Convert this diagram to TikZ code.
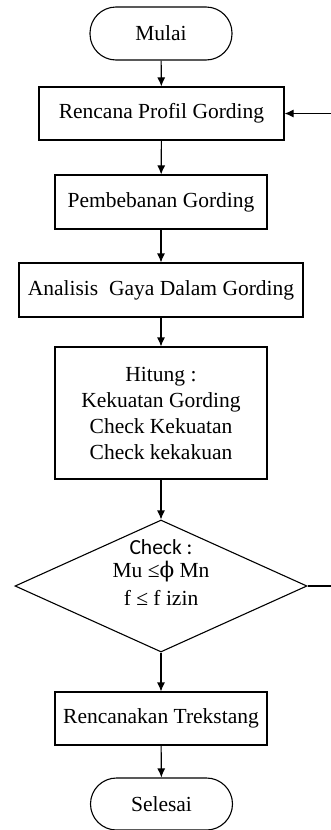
\documentclass[tikz,border=0pt]{standalone}
\usepackage{fontspec}
\setmainfont{Liberation Serif}
\newfontfamily\carlito{Carlito}
\newfontfamily\dejaserif{DejaVu Serif}
\usetikzlibrary{shapes.geometric,arrows.meta}
\begin{document}
\begin{tikzpicture}[x=1pt,y=-1pt,
  font=\fontsize{21.5}{26}\selectfont,
  line width=1.1pt,
  procbox/.style={draw,rectangle,inner sep=0pt,align=center},
  termbox/.style={draw,rectangle,rounded corners=26pt,inner sep=0pt},
  decbox/.style={draw,diamond,inner sep=0pt,minimum width=292pt,minimum height=132pt},
  txt/.style={inner sep=0pt},
  arr/.style={-{Latex[length=9pt,width=8pt]}}]
\useasboundingbox (0,0) rectangle (331,830);
\node[termbox,minimum width=142pt,minimum height=53pt] (mulai) at (161,33.5) {Mulai};
\node[procbox,minimum width=245pt,minimum height=53pt] (rencana) at (161.5,113.5) {Rencana Profil Gording};
\node[procbox,minimum width=212pt,minimum height=54pt] (beban) at (161,202) {Pembebanan Gording};
\node[procbox,minimum width=284pt,minimum height=54pt] (analisis) at (161,290) {Analisis\ \ Gaya Dalam Gording};
\node[procbox,minimum width=212pt,minimum height=132pt] (hitung) at (161,413) {Hitung :\\Kekuatan Gording\\Check Kekuatan\\Check kekakuan};
\node[decbox] (cek) at (161,586) {};
\node[txt] (cekA) at (161,547) {\carlito Check :};
\node[txt] (cekB) at (161,572) {Mu ≤{\dejaserif ϕ} Mn};
\node[txt] (cekC) at (161,598) {f ≤ f izin};
\node[procbox,minimum width=212pt,minimum height=53pt] (trek) at (161,718.5) {Rencanakan Trekstang};
\node[termbox,minimum width=142pt,minimum height=52pt] (selesai) at (161.5,804) {Selesai};
\coordinate (retA) at (331,586);
\coordinate (retB) at (331,113.5);
\draw[arr] (mulai) -- (rencana);
\draw[arr] (rencana) -- (beban);
\draw[arr] (beban) -- (analisis);
\draw[arr] (analisis) -- (hitung);
\draw[arr] (hitung) -- (cek);
\draw[arr] (cek) -- (trek);
\draw[arr] (trek) -- (selesai);
\draw (cek.east) -- (retA);
\draw[arr] (retB) -- (rencana.east);
\end{tikzpicture}
\end{document}
